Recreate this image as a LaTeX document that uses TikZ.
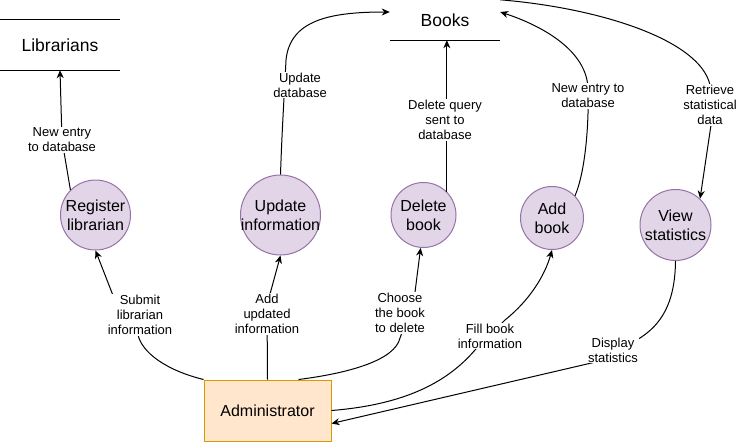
\documentclass[tikz,border=0pt]{standalone}
\usepackage{fontspec}
\setmainfont{Liberation Sans}
\usetikzlibrary{arrows.meta,calc}
\definecolor{procfill}{HTML}{E1D5E7}
\definecolor{procdraw}{HTML}{9673A6}
\definecolor{entfill}{HTML}{FFE6CC}
\definecolor{entdraw}{HTML}{D79B00}
\tikzset{
  proc/.style={circle, draw=procdraw, fill=procfill, line width=1pt, inner sep=0pt},
  ptext/.style={align=center, font=\fontsize{16}{19}\selectfont},
  store/.style={inner sep=0pt, font=\fontsize{17.5}{21}\selectfont},
  entity/.style={rectangle, draw=entdraw, fill=entfill, line width=1pt, minimum width=127pt, minimum height=61pt, font=\fontsize{16}{19}\selectfont},
  flow/.style={line width=1pt, -{Stealth[length=8pt,width=7pt,inset=2.5pt]}},
  plain/.style={line width=1pt},
  lbl/.style={fill=white, inner sep=1pt, align=center, font=\fontsize{13}{15}\selectfont}
}
\begin{document}
\begin{tikzpicture}[x=1pt,y=-1pt]
\useasboundingbox (0,0) rectangle (741,442);
% data stores
\node[store, minimum width=120pt, minimum height=50pt] (lib) at (60,45) {Librarians};
\draw[plain] (lib.north west) -- (lib.north east);
\draw[plain] (lib.south west) -- (lib.south east);
\node[store, minimum width=110pt, minimum height=40pt] (books) at (445,20) {Books};
\draw[plain] (books.north west) -- (books.north east);
\draw[plain] (books.south west) -- (books.south east);
% processes
\node[proc, minimum size=70pt, label={[ptext]center:Register\\librarian}] (reg) at (95.5,215) {};
\node[proc, minimum size=80pt, label={[ptext]center:Update\\information}] (upd) at (280.5,215) {};
\node[proc, minimum size=65pt, label={[ptext]center:Delete\\book}] (del) at (423.5,215) {};
\node[proc, minimum size=63pt, label={[ptext]center:Add\\book}] (add) at (552,218) {};
\node[proc, minimum size=71pt, label={[ptext]center:View\\statistics}] (view) at (675.5,225) {};
% external entity
\node[entity] (admin) at (267.5,410.5) {Administrator};
% flows to stores
\draw[flow] (reg.135) -- (62,140) node[lbl] (l1) {New entry\\to database} -- (lib.south);
\draw[flow] (upd.north) .. controls (282,130) and (284,100) .. (286,60)
  .. controls (290,20) and (330,12) .. ([yshift=8pt]books.west);
\node[lbl] (l2) at (300,85) {Update\\database};
\draw[flow] (del.45) -- (del.45 |- books.south);
\node[lbl] (l3) at (445,120) {Delete query\\sent to\\database};
\draw[flow] (add.44) .. controls (586,170) and (589,120) .. (588,90)
  .. controls (588,50) and (540,25) .. ([yshift=8pt]books.east);
\node[lbl] (l4) at (588,96) {New entry to\\database};
\draw[flow] (books.north east) .. controls (600,8) and (700,40) .. (710,85)
  -- (711,125) -- (view.47);
\node[lbl] (l5) at (710,105) {Retrieve\\statistical\\data};
% flows from administrator
\draw[flow] (admin.north west) .. controls (165,370) and (142,352) .. (138,335)
  -- (114,298) -- (reg.south);
\node[lbl] (l6) at (140,315) {Submit\\librarian\\information};
\draw[flow] (admin.north) -- (267,305) -- (upd.south);
\node[lbl] (l7) at (267,314) {Add\\updated\\information};
\draw[flow] ($(admin.north)+(31,0)$) .. controls (350,373) and (395,360) .. (400,338)
  -- (414,300) -- (del.265);
\node[lbl] (l8) at (400,313) {Choose\\the book\\to delete};
\draw[flow] (admin.east) .. controls (400,405) and (445,385) .. (475,350)
  -- (505,320) .. controls (530,300) and (545,275) .. (add.south);
\node[lbl] (l9) at (490,336) {Fill book\\information};
\draw[flow] (view.south) .. controls (675,305) and (660,325) .. (640,338)
  -- (600,361) -- ($(admin.east)+(0,13)$);
\node[lbl] (l10) at (613,350) {Display\\statistics};
\end{tikzpicture}
\end{document}
